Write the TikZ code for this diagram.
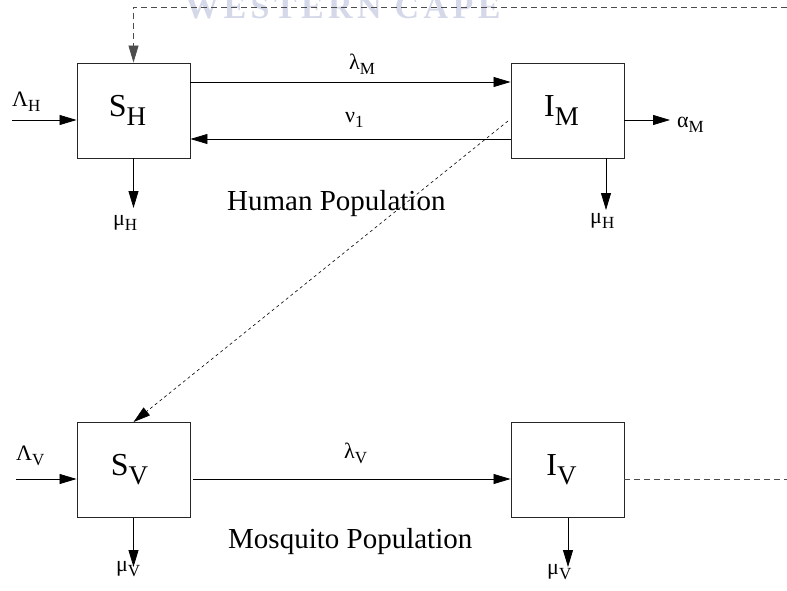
\documentclass[tikz,border=0pt]{standalone}
\usepackage{fontspec}
\setmainfont{Liberation Serif}
\usetikzlibrary{arrows.meta,calc}
\definecolor{wm}{RGB}{212,216,232}
\newcommand{\gl}[2]{{\fontsize{22}{22}\selectfont #1}\raisebox{-5pt}{\fontsize{17}{17}\selectfont #2}}
\newcommand{\bx}[2]{{\fontsize{32}{32}\selectfont #1}\raisebox{-9pt}{\fontsize{27}{27}\selectfont #2}}
\begin{document}
\begin{tikzpicture}[x=1pt,y=-1pt,
  box/.style={draw=black!85,line width=0.9pt,minimum width=113pt,minimum height=95pt,inner sep=0pt},
  tip/.style={-{Triangle[length=17pt,width=10pt]}},
  flow/.style={line width=0.8pt,tip},
  dashedflow/.style={line width=0.8pt,draw=black!70,dash pattern=on 6pt off 4pt},
  fine/.style={line width=0.6pt,dash pattern=on 3pt off 3pt},
  lab/.style={anchor=base west,inner sep=0pt}]
\useasboundingbox (0,0) rectangle (787,591);
% watermark
\begin{scope}
\clip (0,0) rectangle (787,591);
\node[lab,text=wm] (wmark) at (185,19) {\fontsize{34}{34}\selectfont\bfseries\addfontfeature{LetterSpace=13}WESTERN CAPE};
\end{scope}
% boxes
\node[box] (SH) at (133.5,110.5) {\bx{S}{H}\hspace*{12pt}};
\node[box] (IM) at (567.5,110.5) {\bx{I}{M}\hspace*{12pt}};
\node[box] (SV) at (133.5,470) {\bx{S}{V}\hspace*{8pt}};
\node[box] (IV) at (567.5,470) {\bx{I}{V}\hspace*{12pt}};
% coordinates
\coordinate (LH) at (12,120);
\coordinate (AM) at (670,120);
\coordinate (MH1) at (133.5,208);
\coordinate (MH2) at (606,210);
\coordinate (LV) at (16,479);
\coordinate (MV1) at (133.5,567);
\coordinate (MV2) at (568,567);
\coordinate (TR) at (787,7);
\coordinate (BR) at (787,479);
\coordinate (D0) at (508,121);
% human flows
\draw[flow] (SH.east |- 0,82) -- (IM.west |- 0,82);
\draw[flow] (IM.west |- 0,139) -- (SH.east |- 0,139);
\draw[flow] (LH) -- (SH.west |- LH);
\draw[flow] (IM.east |- AM) -- (AM);
\draw[flow] (SH.south) -- (MH1);
\draw[flow] (IM.south -| MH2) -- (MH2);
% mosquito flows
\draw[flow,shorten <=3pt] (SV.east |- 0,479) -- (IV.west |- 0,479);
\draw[flow] (LV) -- (SV.west |- LV);
\draw[flow] (SV.south) -- (MV1);
\draw[flow] (IV.south -| MV2) -- (MV2);
% dashed
\draw[dashedflow,tip] (TR) -- (SH.north |- TR) -- (SH.north);
\draw[dashedflow] (IV.east |- BR) -- (BR);
\draw[fine,tip] (D0) -- (SV.north);
% labels
\node[lab] (lM) at (349,70) {\gl{λ}{M}};
\node[lab] (nu) at (345,123) {\gl{ν}{1}};
\node[lab] (LHl) at (12,107) {\gl{Λ}{H}};
\node[lab] (aM) at (677,128) {\gl{α}{M}};
\node[lab] (mH1) at (113,225) {\gl{μ}{H}};
\node[lab] (mH2) at (590,223) {\gl{μ}{H}};
\node[lab] (Hp) at (227,210) {\fontsize{29}{29}\selectfont Human Population};
\node[lab] (LVl) at (16,460) {\gl{Λ}{V}};
\node[lab] (lV) at (344,458) {\gl{λ}{V}};
\node[lab] (Mp) at (228,548) {\fontsize{29}{29}\selectfont Mosquito Population};
\node[lab] (mV1) at (116,571) {\gl{μ}{V}};
\node[lab] (mV2) at (547,574) {\gl{μ}{V}};
\end{tikzpicture}
\end{document}
